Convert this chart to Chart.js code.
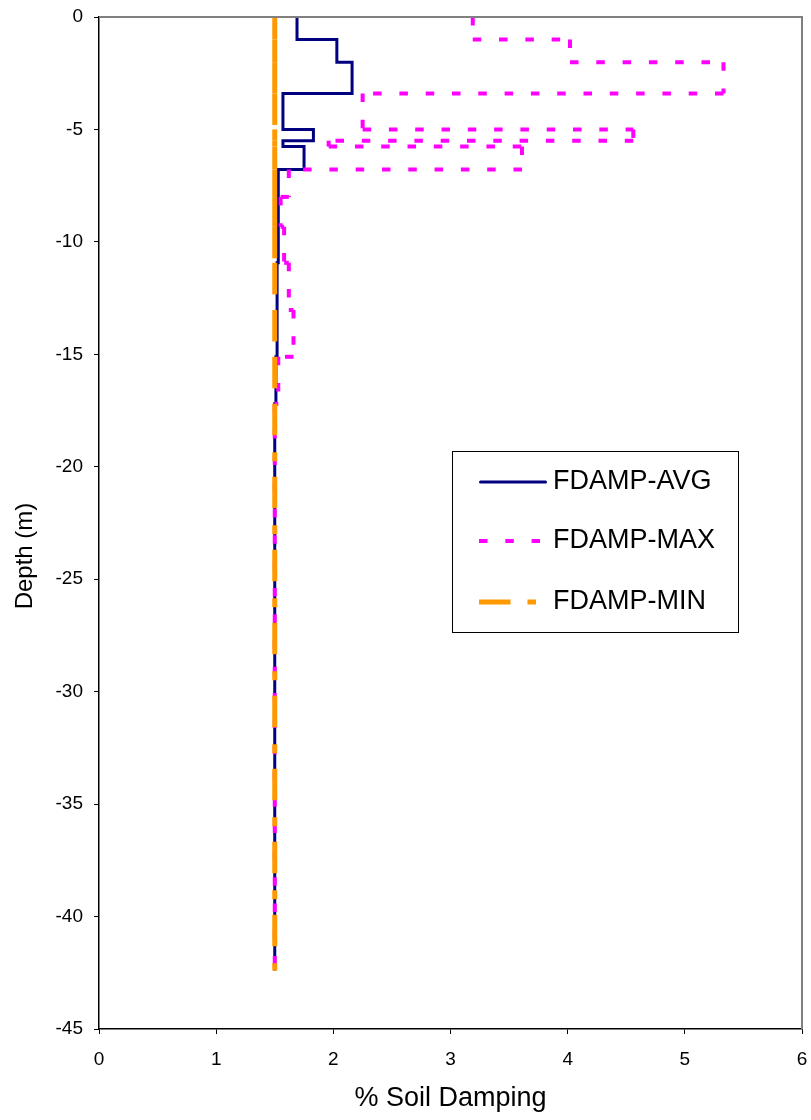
<!DOCTYPE html>
<html>
<head>
<meta charset="utf-8">
<title>% Soil Damping</title>
<script src="https://cdn.jsdelivr.net/npm/chart.js@4"></script>
<style>
  html, body { margin: 0; padding: 0; background: #fff; }
  #wrap { width: 811px; height: 1120px; }
</style>
</head>
<body>
<div id="wrap"><canvas id="chart" width="811" height="1120"></canvas></div>
<script>
// Tope de cada capa (m) y fondo del perfil
const layerTops = [0, -1.0, -2.01, -3.40, -5.0, -5.5, -5.76, -6.78, -8.0, -9.33, -10.93, -13.03, -15.11, -17.2];
const profileBottom = -42.4;

// Amortiguamiento por capa (%)
const dampAvg = [1.69, 2.03, 2.16, 1.57, 1.83, 1.57, 1.75, 1.53, 1.53, 1.53, 1.52, 1.52, 1.51, 1.50];
const dampMax = [3.19, 4.02, 5.33, 2.25, 4.56, 1.96, 3.61, 1.62, 1.55, 1.58, 1.62, 1.66, 1.53, 1.50];
const dampMin = [1.50, 1.50, 1.50, 1.50, 1.50, 1.50, 1.50, 1.50, 1.50, 1.50, 1.50, 1.50, 1.50, 1.50];

const seriesNames = ['FDAMP-AVG', 'FDAMP-MAX', 'FDAMP-MIN'];

// Ticks
const xTicks = [0, 1, 2, 3, 4, 5, 6];
const yTicks = [0, -5, -10, -15, -20, -25, -30, -35, -40, -45];

const FONT = '"Liberation Sans", Arial, sans-serif';
Chart.defaults.font.family = FONT;
Chart.defaults.color = '#000';

// Perfil escalonado: dos puntos por capa (tope y fondo)
function buildSteps(values) {
  const pts = [];
  values.forEach((v, i) => {
    const bottom = i + 1 < layerTops.length ? layerTops[i + 1] : profileBottom;
    pts.push({ x: v, y: layerTops[i] }, { x: v, y: bottom });
  });
  return pts;
}

// Reinicia el patrón de guiones en cada tramo (como Excel)
const restartDash = {
  borderDashOffset: c => (c.p0DataIndex % 2) * 0.01
};

// Borde gris superior y derecho del área de trazado
const frameBorder = {
  id: 'frameBorder',
  afterDatasetsDraw(chart) {
    const { left, top, right, bottom } = chart.chartArea;
    const c = chart.ctx;
    c.save();
    c.strokeStyle = '#808080';
    c.lineWidth = 2;
    c.beginPath();
    c.moveTo(left, top);
    c.lineTo(right, top);
    c.lineTo(right, bottom);
    c.stroke();
    c.restore();
  }
};

// Título del eje Y
const depthTitle = {
  id: 'depthTitle',
  afterDraw(chart) {
    const c = chart.ctx;
    c.save();
    c.translate(25, 556);
    c.rotate(-Math.PI / 2);
    c.fillStyle = '#000';
    c.font = '24px ' + FONT;
    c.textAlign = 'center';
    c.textBaseline = 'middle';
    c.fillText('Depth (m)', 0, 0);
    c.restore();
  }
};

// Leyenda dentro del área de trazado
const legendBox = {
  id: 'legendBox',
  afterDraw(chart) {
    const c = chart.ctx;
    const rowsY = [482, 541, 602];
    const lineEnds = [545.5, 540, 536];
    c.save();
    c.fillStyle = '#fff';
    c.fillRect(453, 452, 285, 180);
    c.strokeStyle = '#000';
    c.lineWidth = 1;
    c.strokeRect(452.5, 451.5, 286, 181);
    chart.data.datasets.forEach((ds, i) => {
      const dashed = ds.borderDash && ds.borderDash.length;
      c.beginPath();
      c.strokeStyle = ds.borderColor;
      c.lineWidth = ds.borderWidth;
      c.setLineDash(dashed ? ds.borderDash : []);
      c.lineCap = dashed ? 'butt' : 'round';
      c.moveTo(dashed ? 479 : 480.5, rowsY[i]);
      c.lineTo(lineEnds[i], rowsY[i]);
      c.stroke();
      c.setLineDash([]);
      c.fillStyle = '#000';
      c.font = '27px ' + FONT;
      c.textAlign = 'left';
      c.textBaseline = 'middle';
      c.fillText(ds.label, 553, rowsY[i]);
    });
    c.restore();
  }
};

const axisGrid = { drawOnChartArea: false, drawTicks: true, tickLength: 5, color: '#000', lineWidth: 1 };
const axisBorder = { display: true, color: '#000', width: 1.5 };

new Chart(document.getElementById('chart'), {
  type: 'scatter',
  data: {
    datasets: [
      {
        label: seriesNames[0],
        data: buildSteps(dampAvg),
        showLine: true,
        borderColor: '#000080',
        borderWidth: 3,
        borderJoinStyle: 'miter',
        pointRadius: 0,
        pointHoverRadius: 0,
        order: 3
      },
      {
        label: seriesNames[1],
        data: buildSteps(dampMax),
        showLine: true,
        borderColor: '#FF00FF',
        borderWidth: 4,
        borderDash: [8.5, 17.8],
        pointRadius: 0,
        pointHoverRadius: 0,
        order: 2,
        segment: restartDash
      },
      {
        label: seriesNames[2],
        data: buildSteps(dampMin),
        showLine: true,
        borderColor: '#FF9900',
        borderWidth: 5,
        borderDash: [31.5, 17, 9, 15.5],
        pointRadius: 0,
        pointHoverRadius: 0,
        order: 1,
        segment: restartDash
      }
    ]
  },
  options: {
    responsive: false,
    animation: false,
    layout: { padding: { top: 17, right: 9, left: 0, bottom: 0 } },
    plugins: {
      legend: { display: false },
      tooltip: { enabled: false }
    },
    scales: {
      x: {
        type: 'linear',
        min: 0,
        max: 6,
        afterBuildTicks: s => { s.ticks = xTicks.map(v => ({ value: v })); },
        afterFit: s => {
          s.height = 91;
          s.paddingLeft = 0;
          s.paddingRight = 0;
        },
        grid: axisGrid,
        border: axisBorder,
        ticks: { color: '#000', font: { size: 19 }, padding: 14, maxRotation: 0 },
        title: {
          display: true,
          text: '% Soil Damping',
          color: '#000',
          font: { size: 27 },
          padding: { top: 0, bottom: 5 }
        }
      },
      y: {
        type: 'linear',
        min: -45,
        max: 0,
        afterBuildTicks: s => { s.ticks = yTicks.map(v => ({ value: v })); },
        afterFit: s => {
          s.width = 99;
          s.paddingTop = 0;
          s.paddingBottom = 0;
        },
        grid: axisGrid,
        border: axisBorder,
        ticks: { color: '#000', font: { size: 19 }, padding: 11 }
      }
    }
  },
  plugins: [frameBorder, legendBox, depthTitle]
});
</script>
</body>
</html>
